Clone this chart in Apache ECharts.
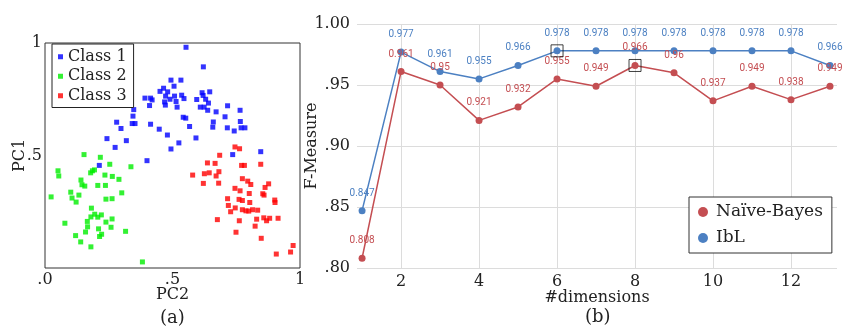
<!DOCTYPE html>
<html>
<head>
<meta charset="utf-8">
<script src="https://cdn.jsdelivr.net/npm/echarts@6/dist/echarts.min.js"></script>
<style>
  html, body { margin: 0; padding: 0; background: #fff; }
  #main { width: 843px; height: 329px; }
</style>
</head>
<body>
<div id="main"></div>
<script>
// (a) PCA scatter, [PC2, PC1]
var class1 = [
  [0.553,0.981],[0.621,0.894],[0.494,0.835],[0.533,0.835],[0.465,0.799],[0.506,0.808],
  [0.451,0.785],[0.481,0.783],[0.616,0.779],[0.646,0.783],[0.392,0.755],[0.414,0.755],
  [0.420,0.747],[0.473,0.764],[0.490,0.750],[0.508,0.764],[0.536,0.768],[0.545,0.753],
  [0.514,0.740],[0.469,0.738],[0.472,0.724],[0.518,0.715],[0.595,0.749],[0.620,0.767],
  [0.630,0.750],[0.641,0.733],[0.609,0.715],[0.624,0.715],[0.638,0.701],[0.671,0.694],
  [0.716,0.721],[0.765,0.701],[0.410,0.722],[0.348,0.704],[0.345,0.675],[0.342,0.642],
  [0.353,0.642],[0.281,0.648],[0.298,0.620],[0.243,0.575],[0.319,0.566],[0.275,0.536],
  [0.414,0.639],[0.448,0.617],[0.480,0.591],[0.494,0.529],[0.525,0.556],[0.542,0.670],
  [0.552,0.666],[0.567,0.629],[0.592,0.578],[0.660,0.649],[0.658,0.626],[0.706,0.672],
  [0.715,0.623],[0.742,0.609],[0.766,0.651],[0.769,0.623],[0.784,0.623],[0.736,0.504],
  [0.846,0.517],[0.400,0.477],[0.213,0.456]
];
var class2 = [
  [0.153,0.504],[0.217,0.492],[0.051,0.432],[0.054,0.409],[0.254,0.461],[0.337,0.450],
  [0.186,0.432],[0.194,0.436],[0.179,0.423],[0.235,0.413],[0.264,0.407],[0.290,0.394],
  [0.141,0.391],[0.145,0.370],[0.156,0.364],[0.207,0.367],[0.237,0.367],[0.101,0.337],
  [0.133,0.324],[0.106,0.311],[0.122,0.293],[0.024,0.316],[0.301,0.334],[0.239,0.306],
  [0.263,0.308],[0.182,0.266],[0.195,0.239],[0.207,0.226],[0.180,0.227],[0.221,0.236],
  [0.166,0.207],[0.239,0.204],[0.263,0.218],[0.078,0.199],[0.167,0.183],[0.210,0.174],
  [0.259,0.181],[0.159,0.160],[0.222,0.150],[0.214,0.140],[0.120,0.144],[0.316,0.163],
  [0.140,0.116],[0.180,0.094],[0.382,0.027]
];
var class3 = [
  [0.745,0.538],[0.763,0.530],[0.685,0.501],[0.637,0.467],[0.667,0.465],[0.579,0.413],
  [0.625,0.419],[0.644,0.423],[0.671,0.409],[0.682,0.428],[0.621,0.376],[0.681,0.377],
  [0.771,0.456],[0.782,0.456],[0.846,0.461],[0.774,0.397],[0.795,0.386],[0.807,0.371],
  [0.877,0.374],[0.863,0.358],[0.854,0.330],[0.859,0.324],[0.745,0.354],[0.765,0.343],
  [0.801,0.331],[0.716,0.308],[0.761,0.305],[0.774,0.300],[0.803,0.291],[0.719,0.278],
  [0.746,0.267],[0.728,0.250],[0.774,0.259],[0.788,0.254],[0.799,0.253],[0.814,0.259],
  [0.834,0.257],[0.901,0.302],[0.902,0.291],[0.914,0.221],[0.869,0.210],[0.881,0.221],
  [0.676,0.215],[0.762,0.210],[0.830,0.217],[0.858,0.223],[0.824,0.186],[0.749,0.159],
  [0.848,0.132],[0.907,0.062],[0.963,0.071],[0.973,0.100]
];

// (b) F-Measure vs #dimensions
var dims = [1,2,3,4,5,6,7,8,9,10,11,12,13];
var naiveBayes = [0.808,0.961,0.95,0.921,0.932,0.955,0.949,0.966,0.96,0.937,0.949,0.938,0.949];
var ibl = [0.847,0.977,0.961,0.955,0.966,0.978,0.978,0.978,0.978,0.978,0.978,0.978,0.966];
var dimTicks = [2,4,6,8,10,12];
var fTicks = ['.80','.85','.90','.95','1.00'];
// boxed points: [dimension, value]
var boxed = [[6,0.978],[8,0.966]];

var serif = 'DejaVu Serif';
var red = '#c44e52';
var blue = '#4c80c2';

function pairs(xs, ys) {
  var out = [];
  for (var i = 0; i < xs.length; i++) out.push([xs[i], ys[i]]);
  return out;
}

var lineLabel = function (color) {
  return {
    show: true,
    position: 'top',
    distance: 9,
    color: color,
    fontFamily: 'Roboto',
    fontSize: 10,
    formatter: function (p) { return String(p.value[1]); }
  };
};

var chart = echarts.init(document.getElementById('main'));

var nameStyle = { fontFamily: serif, fontSize: 16, color: '#222' };

var option = {
  backgroundColor: '#fff',
  animation: false,
  grid: [
    { left: 45, top: 43, width: 255, height: 225, show: true, borderColor: '#333', borderWidth: 1, backgroundColor: 'transparent' },
    { left: 357, top: 24, width: 480, height: 244 }
  ],
  xAxis: [{
    gridIndex: 0, type: 'value', min: 0, max: 1, interval: 0.5,
    name: 'PC2', nameLocation: 'middle', nameGap: 19, nameMoveOverlap: false,
    nameTextStyle: nameStyle,
    axisLine: { show: false }, axisTick: { show: false }, splitLine: { show: false },
    axisLabel: {
      fontFamily: serif, fontSize: 16, color: '#222', margin: 4,
      formatter: function (v) { return v === 0 ? '.0' : (v === 1 ? '1' : '.5'); }
    }
  }, {
    gridIndex: 1, type: 'value', min: 0.87, max: 13.18,
    name: '#dimensions', nameLocation: 'middle', nameGap: 22, nameMoveOverlap: false,
    nameTextStyle: nameStyle,
    axisLine: { show: false },
    axisTick: { show: false, customValues: dimTicks },
    axisLabel: { customValues: dimTicks, fontFamily: serif, fontSize: 16, color: '#222', margin: 6 },
    splitLine: { show: true, lineStyle: { color: '#dcdcdc', width: 1 } }
  }],
  yAxis: [{
    gridIndex: 0, type: 'value', min: 0, max: 1, interval: 0.5,
    name: 'PC1', nameLocation: 'middle', nameGap: 17, nameMoveOverlap: false,
    nameTextStyle: nameStyle,
    axisLine: { show: false }, axisTick: { show: false }, splitLine: { show: false },
    axisLabel: {
      fontFamily: serif, fontSize: 16, color: '#222', margin: 3,
      formatter: function (v) { return v === 0 ? '' : (v === 1 ? '1' : '.5'); }
    }
  }, {
    gridIndex: 1, type: 'value', min: 0.8, max: 1.0, interval: 0.05,
    name: 'F-Measure', nameLocation: 'middle', nameGap: 37, nameMoveOverlap: false,
    nameTextStyle: nameStyle,
    axisLine: { show: false }, axisTick: { show: false },
    axisLabel: {
      fontFamily: serif, fontSize: 16, color: '#222', margin: 7,
      formatter: function (v) { return fTicks[Math.round((v - 0.8) / 0.05)]; }
    },
    splitLine: { show: true, lineStyle: { color: '#dcdcdc', width: 1 } }
  }],
  legend: [{
    data: ['Class 1', 'Class 2', 'Class 3'],
    left: 52, top: 44, orient: 'vertical',
    icon: 'rect', itemWidth: 5, itemHeight: 5, itemGap: 0,
    padding: [3, 7, 2, 6],
    backgroundColor: '#fff', borderColor: '#222', borderWidth: 1, borderRadius: 0,
    textStyle: { fontFamily: serif, fontSize: 16, color: '#222', lineHeight: 19.5 }
  }, {
    data: ['Naïve-Bayes', 'IbL'],
    left: 689, top: 197, orient: 'vertical',
    icon: 'circle', itemWidth: 10, itemHeight: 10, itemGap: 6,
    padding: [5, 9, 5, 9],
    backgroundColor: '#fff', borderColor: '#333', borderWidth: 1, borderRadius: 0,
    textStyle: { fontFamily: serif, fontSize: 17, color: '#222', lineHeight: 20, padding: [0, 0, 0, 3] }
  }],
  graphic: [
    { type: 'text', left: 172 - 12, top: 309, style: { text: '(a)', font: '18px "DejaVu Serif"', fill: '#222' } },
    { type: 'text', left: 597 - 12, top: 308, style: { text: '(b)', font: '18px "DejaVu Serif"', fill: '#222' } }
  ],
  series: [
    { name: 'Class 1', type: 'scatter', xAxisIndex: 0, yAxisIndex: 0, symbol: 'rect', symbolSize: 5,
      itemStyle: { color: '#0000ff' }, data: class1 },
    { name: 'Class 2', type: 'scatter', xAxisIndex: 0, yAxisIndex: 0, symbol: 'rect', symbolSize: 5,
      itemStyle: { color: '#00ee00' }, data: class2 },
    { name: 'Class 3', type: 'scatter', xAxisIndex: 0, yAxisIndex: 0, symbol: 'rect', symbolSize: 5,
      itemStyle: { color: '#ff0000' }, data: class3 },
    { name: 'IbL', type: 'line', xAxisIndex: 1, yAxisIndex: 1, symbol: 'circle', symbolSize: 7,
      lineStyle: { color: blue, width: 1.5 }, itemStyle: { color: blue },
      label: lineLabel(blue), data: pairs(dims, ibl), z: 3 },
    { name: 'Naïve-Bayes', type: 'line', xAxisIndex: 1, yAxisIndex: 1, symbol: 'circle', symbolSize: 7,
      lineStyle: { color: red, width: 1.5 }, itemStyle: { color: red },
      label: lineLabel(red), data: pairs(dims, naiveBayes), z: 4 },
    { name: 'boxed', type: 'scatter', xAxisIndex: 1, yAxisIndex: 1, symbol: 'rect', symbolSize: 12,
      itemStyle: { color: 'rgba(0,0,0,0)', borderColor: '#111', borderWidth: 1 },
      data: boxed, z: 5, silent: true }
  ]
};

chart.setOption(option);
</script>
</body>
</html>
